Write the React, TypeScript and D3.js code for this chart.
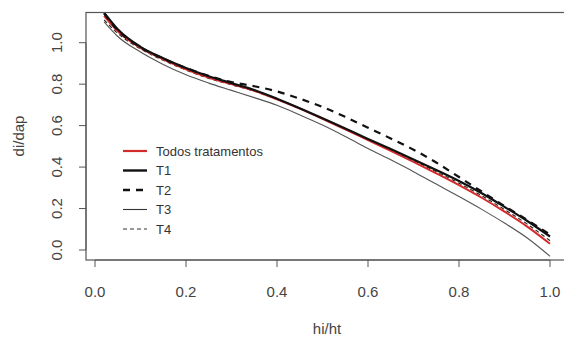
import React from "react";
import * as d3 from "d3";

const xs = [0.02, 0.05, 0.1, 0.15, 0.2, 0.25, 0.3, 0.35, 0.4, 0.45, 0.5, 0.55, 0.6, 0.65, 0.7, 0.75, 0.8, 0.85, 0.9, 0.95, 1.0];
const todos = [1.13, 1.055, 0.975, 0.92, 0.872, 0.832, 0.8, 0.768, 0.727, 0.682, 0.633, 0.582, 0.53, 0.478, 0.425, 0.37, 0.313, 0.252, 0.185, 0.113, 0.03];
const t1 = [1.145, 1.065, 0.98, 0.925, 0.878, 0.838, 0.805, 0.772, 0.73, 0.684, 0.636, 0.586, 0.536, 0.487, 0.437, 0.386, 0.333, 0.274, 0.208, 0.14, 0.065];
const t2 = [1.14, 1.06, 0.978, 0.923, 0.878, 0.84, 0.81, 0.79, 0.765, 0.73, 0.69, 0.642, 0.59, 0.538, 0.484, 0.422, 0.352, 0.282, 0.212, 0.145, 0.075];
const t3 = [1.1, 1.03, 0.955, 0.895, 0.845, 0.805, 0.77, 0.735, 0.698, 0.652, 0.603, 0.548, 0.49, 0.435, 0.378, 0.318, 0.258, 0.196, 0.13, 0.058, -0.03];
const t4 = [1.11, 1.045, 0.97, 0.915, 0.868, 0.828, 0.797, 0.766, 0.726, 0.682, 0.635, 0.585, 0.534, 0.483, 0.432, 0.378, 0.322, 0.262, 0.195, 0.125, 0.045];

const xTicks = [0, 0.2, 0.4, 0.6, 0.8, 1.0];
const yTicks = [0, 0.2, 0.4, 0.6, 0.8, 1.0];
const legendLabels = ["Todos tratamentos", "T1", "T2", "T3", "T4"];

const W = 564, H = 338;
const boxL = 86, boxT = 12.5, boxR = 568, boxB = 260;

export default function App() {
  const x = d3.scaleLinear().domain([0, 1]).range([95, 550]);
  const y = d3.scaleLinear().domain([0, 1]).range([250, 42.7]);
  const mk = (vals: number[]) =>
    d3.line<number>().x((_, i) => x(xs[i])).y((v) => y(v)).curve(d3.curveMonotoneX)(vals) || "";

  const series = [
    { vals: t3, stroke: "#555", w: 1.1, dash: "" },
    { vals: t4, stroke: "#222", w: 1.1, dash: "4,3" },
    { vals: todos, stroke: "#d42a2a", w: 2, dash: "" },
    { vals: t1, stroke: "#111", w: 2.2, dash: "" },
    { vals: t2, stroke: "#111", w: 2.2, dash: "7,6" },
  ];
  const legendStyles = [
    { stroke: "#d42a2a", w: 2.2, dash: "" },
    { stroke: "#111", w: 2.4, dash: "" },
    { stroke: "#111", w: 2.4, dash: "7,6" },
    { stroke: "#333", w: 1.1, dash: "" },
    { stroke: "#333", w: 1.1, dash: "4,3" },
  ];
  const rowY = [151, 170.5, 190, 209.5, 229];
  const font = "'Liberation Sans', Arial, sans-serif";
  const txt = "#444";

  return (
    <svg width={W} height={H} style={{ position: "absolute", left: 0, top: 0, background: "#fff" }}>
      <defs>
        <clipPath id="plotclip">
          <rect x={boxL} y={boxT} width={boxR - boxL} height={boxB - boxT} />
        </clipPath>
      </defs>
      <rect x={0} y={0} width={W} height={H} fill="#fff" />
      <g clipPath="url(#plotclip)" fill="none">
        {series.map((s, i) => (
          <path key={i} d={mk(s.vals)} stroke={s.stroke} strokeWidth={s.w} strokeDasharray={s.dash || undefined} />
        ))}
      </g>
      <rect x={boxL} y={boxT} width={boxR - boxL} height={boxB - boxT} fill="none" stroke="#555" strokeWidth={1.2} />
      <line x1={x(0)} x2={x(1)} y1={boxB} y2={boxB} stroke="#555" />
      {xTicks.map((t) => (
        <g key={"x" + t}>
          <line x1={x(t)} x2={x(t)} y1={boxB} y2={boxB + 7} stroke="#555" />
          <text x={x(t)} y={297} textAnchor="middle" fontFamily={font} fontSize={15} fill={txt}>
            {t.toFixed(1)}
          </text>
        </g>
      ))}
      <line x1={boxL} x2={boxL} y1={y(0)} y2={y(1)} stroke="#555" />
      {yTicks.map((t) => (
        <g key={"y" + t}>
          <line x1={boxL} x2={boxL - 7} y1={y(t)} y2={y(t)} stroke="#555" />
          <text
            transform={`translate(61.5,${y(t)}) rotate(-90)`}
            textAnchor="middle"
            fontFamily={font}
            fontSize={15}
            fill={txt}
          >
            {t.toFixed(1)}
          </text>
        </g>
      ))}
      <text x={327} y={334} textAnchor="middle" fontFamily={font} fontSize={15} fill={txt}>
        hi/ht
      </text>
      <text transform={`translate(24,136) rotate(-90)`} textAnchor="middle" fontFamily={font} fontSize={15} fill={txt}>
        di/dap
      </text>
      {legendLabels.map((l, i) => (
        <g key={l}>
          <line
            x1={123}
            x2={147}
            y1={rowY[i]}
            y2={rowY[i]}
            stroke={legendStyles[i].stroke}
            strokeWidth={legendStyles[i].w}
            strokeDasharray={legendStyles[i].dash || undefined}
          />
          <text x={156} y={rowY[i] + 4.5} fontFamily={font} fontSize={13} fill="#333">
            {l}
          </text>
        </g>
      ))}
    </svg>
  );
}
